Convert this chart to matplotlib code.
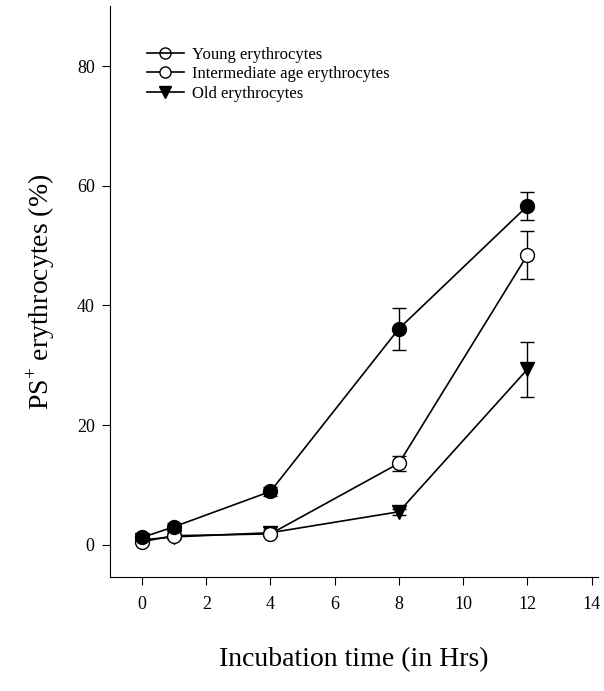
import matplotlib
matplotlib.use('Agg')
import matplotlib.pyplot as plt
from matplotlib.lines import Line2D

plt.rcParams['font.family'] = ['Liberation Serif', 'DejaVu Serif']
plt.rcParams['mathtext.fontset'] = 'custom'
plt.rcParams['mathtext.rm'] = 'Liberation Serif'

# --- data ---
hours = [0, 1, 4, 8, 12]
young = [1.2, 3.0, 8.9, 36.1, 56.6]
young_err = [0.4, 0.6, 0.8, 3.5, 2.3]
inter = [0.5, 1.5, 1.8, 13.6, 48.4]
inter_err = [0.3, 0.4, 0.4, 1.3, 4.0]
old = [0.8, 1.3, 2.0, 5.5, 29.3]
old_err = [0.3, 0.4, 0.4, 0.5, 4.6]

labels = ['Young erythrocytes', 'Intermediate age erythrocytes', 'Old erythrocytes']

fig = plt.figure(figsize=(6.04, 6.91), dpi=100)
ax = fig.add_axes([0.182, 0.165, 0.808, 0.826])

ax.errorbar(hours, old, yerr=old_err, fmt='v-', color='black', mfc='black',
            markersize=10, capsize=5, elinewidth=1, lw=1.2)
ax.errorbar(hours, inter, yerr=inter_err, fmt='o-', color='black', mfc='white',
            markersize=10, capsize=5, elinewidth=1, lw=1.2)
ax.errorbar(hours, young, yerr=young_err, fmt='o-', color='black', mfc='black',
            markersize=10, capsize=5, elinewidth=1, lw=1.2)

handles = [
    Line2D([], [], color='black', marker='o', mfc='none', markersize=8, lw=1.2),
    Line2D([], [], color='black', marker='o', mfc='white', markersize=8, lw=1.2),
    Line2D([], [], color='black', marker='v', mfc='black', markersize=8, lw=1.2),
]
ax.legend(handles, labels, loc='upper left', bbox_to_anchor=(0.045, 0.955),
          frameon=False, fontsize=12, handlelength=2.2, handletextpad=0.5,
          labelspacing=0.2)

ax.set_xlim(-1, 14.2)
ax.set_ylim(-5.4, 90)
ax.set_xticks([0, 2, 4, 6, 8, 10, 12, 14])
ax.set_yticks([0, 20, 40, 60, 80])
ax.tick_params(direction='out', length=6, labelsize=13, pad=8)
ax.tick_params(axis='y', pad=5)
ax.spines['top'].set_visible(False)
ax.spines['right'].set_visible(False)

ax.set_xlabel('Incubation time (in Hrs)', fontsize=20, labelpad=24)
ax.set_ylabel('PS$^{+}$ erythrocytes (%)', fontsize=20, labelpad=14)

plt.savefig('out.png', dpi=100)
